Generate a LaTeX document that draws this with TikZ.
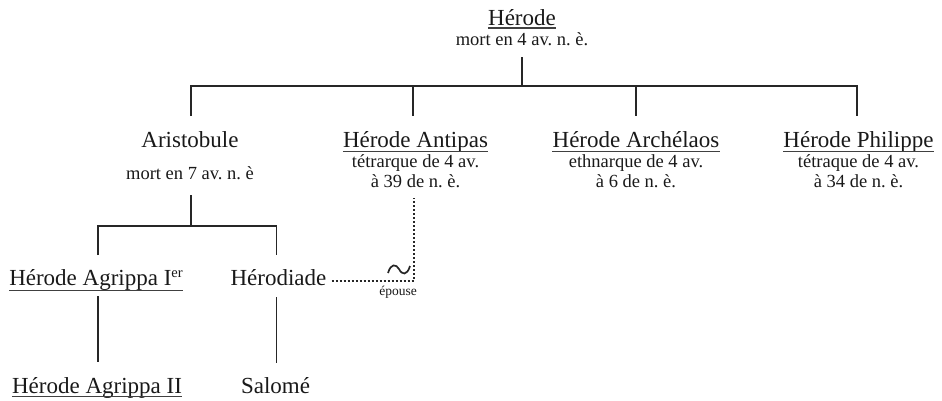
\documentclass[tikz,border=0pt]{standalone}
\usepackage{fontspec}
\setmainfont{Liberation Serif}
\frenchspacing
\begin{document}
\begin{tikzpicture}[x=1pt,y=-1pt,
  nm/.style={font=\fontsize{23}{26}\selectfont\frenchspacing, inner sep=0pt, anchor=base, text=black!90},
  sub/.style={font=\fontsize{18.5}{20}\selectfont\frenchspacing, inner sep=0pt, anchor=base, text=black!90},
  small/.style={font=\fontsize{13.5}{15}\selectfont, inner sep=0pt, anchor=base, text=black!90},
  tree/.style={line width=1.6pt, black!85},
  ul/.style={line width=1.1pt, black!75},
  wife/.style={line width=2pt, black!85, dash pattern=on 2pt off 2pt}]
\useasboundingbox (0,0) rectangle (942,400);

% names
\node[nm] (herode) at (522,25) {Hérode};
\node[sub] (herodeS) at (522,45) {mort en 4 av. n. è.};

\node[nm] (aristo) at (190,147) {Aristobule};
\node[sub] (aristoS) at (190,179) {mort en 7 av. n. è};

\node[nm] (antipas) at (415.5,147) {Hérode Antipas};
\node[sub] (antipasS1) at (415.5,167) {tétrarque de 4 av.};
\node[sub] (antipasS2) at (415.5,187) {à 39 de n. è.};

\node[nm] (archel) at (636,147) {Hérode Archélaos};
\node[sub] (archelS1) at (636,167) {ethnarque de 4 av.};
\node[sub] (archelS2) at (636,187) {à 6 de n. è.};

\node[nm] (phil) at (858.5,147) {Hérode Philippe};
\node[sub] (philS1) at (858.5,167) {tétraque de 4 av.};
\node[sub] (philS2) at (858.5,187) {à 34 de n. è.};

\node[nm] (agr1) at (96,285) {Hérode Agrippa I\raisebox{7.5pt}{\fontsize{14.5}{14.5}\selectfont er}};
\node[nm] (herodiade) at (278.5,285) {Hérodiade};
\node[nm] (agr2) at (97,393) {Hérode Agrippa II};
\node[nm] (salome) at (275.5,393) {Salomé};

\node[small] (epouse) at (398,295) {épouse};

% underlines
\foreach \n/\d in {herode/3, antipas/4.3, archel/4.8, phil/4.3, agr2/3.6}
  \draw[ul] ([yshift=-\d pt]\n.base west) -- ([yshift=-\d pt]\n.base east);
\draw[ul] ([yshift=-5.8pt]agr1.base west) -- ([yshift=-5.8pt]agr1.base east);

% tree connectors
\coordinate (t0) at (522,57);
\coordinate (j0) at (522,86);
\coordinate (aristoT) at (191,116);
\coordinate (antipasT) at (413,116);
\coordinate (archelT) at (636,116);
\coordinate (philT) at (857,116);
\draw[tree] (t0) -- (j0);
\draw[tree] (aristoT) |- (j0) -| (philT);
\draw[tree] (antipasT |- j0) -- (antipasT);
\draw[tree] (archelT |- j0) -- (archelT);

\coordinate (aristoB) at (191,195);
\coordinate (j1) at (191,226);
\coordinate (agr1T) at (98,255);
\coordinate (herodiadeT) at (276.5,255);
\draw[tree] (aristoB) -- (j1);
\draw[tree] (agr1T) |- (j1) -| (herodiadeT);

\coordinate (agr1B) at (98,296);
\coordinate (agr2T) at (98,362);
\coordinate (herodiadeB) at (276.5,297);
\coordinate (salomeT) at (276.5,363);
\draw[tree] (agr1B) -- (agr2T);
\draw[tree] (herodiadeB) -- (salomeT);

% marriage
\coordinate (antipasB) at (414,198);
\coordinate (m) at (414,280.5);
\draw[wife] (herodiade.east |- m) ++(5,0) -- (m) -- (antipasB);
\draw[line width=1.7pt, black!85] (388,273) .. controls (391,263) and (396,264) .. (399,269) .. controls (402,275) and (407,276) .. (410,266);
\end{tikzpicture}
\end{document}
